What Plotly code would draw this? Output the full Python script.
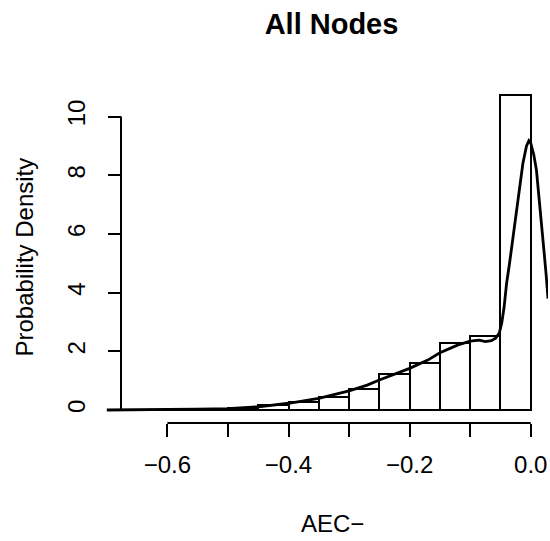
import plotly.graph_objects as go

# ---- data ----
bin_edges = [-0.70, -0.65, -0.60, -0.55, -0.50, -0.45, -0.40, -0.35, -0.30,
             -0.25, -0.20, -0.15, -0.10, -0.05, 0.00]
bin_density = [0.0, 0.0, 0.02, 0.05, 0.06, 0.16, 0.28, 0.43, 0.72,
               1.22, 1.61, 2.30, 2.52, 10.74]

kde_x = [-0.70, -0.65, -0.60, -0.55, -0.50, -0.45, -0.40, -0.35, -0.30, -0.27,
         -0.25, -0.22, -0.20, -0.17, -0.15, -0.12, -0.10, -0.085, -0.075, -0.065,
         -0.058, -0.052, -0.048, -0.044, -0.040, -0.035, -0.029, -0.021, -0.013,
         -0.007, -0.003, 0.000, 0.005, 0.0094, 0.0177, 0.0215, 0.0255, 0.0285]
kde_y = [0.0, 0.005, 0.01, 0.03, 0.05, 0.11, 0.23, 0.40, 0.65, 0.85,
         1.02, 1.25, 1.42, 1.70, 1.95, 2.22, 2.35, 2.38, 2.33, 2.36,
         2.45, 2.62, 2.95, 3.5, 4.3, 5.0, 5.9, 7.05, 8.4,
         9.0, 9.18, 9.1, 8.7, 8.18, 6.48, 5.5, 4.6, 3.8]

x_ticks = [-0.6, -0.5, -0.4, -0.3, -0.2, -0.1, 0.0]
x_ticklabels = ["\u22120.6", "", "\u22120.4", "", "\u22120.2", "", "0.0"]
y_ticks = [0, 2, 4, 6, 8, 10]
y_ticklabels = ["0", "2", "4", "6", "8", "10"]

title_text = "<b>All Nodes</b>"
x_label = "AEC\u2212"
y_label = "Probability Density"

# ---- derived ----
centers = [(a + b) / 2 for a, b in zip(bin_edges[:-1], bin_edges[1:])]
widths = [b - a for a, b in zip(bin_edges[:-1], bin_edges[1:])]

FONT = "Liberation Sans, Arial, Helvetica, sans-serif"
W, H = 550, 541
ML, MR, MT, MB = 105, 2, 82, 118
plot_w = W - ML - MR
yaxis_pos = (121 - ML) / plot_w

fig = go.Figure()
fig.add_trace(go.Bar(
    x=centers, y=bin_density, width=widths,
    marker=dict(color="white", line=dict(color="black", width=2)),
    showlegend=False, hoverinfo="skip",
))
fig.add_trace(go.Scatter(
    x=kde_x, y=kde_y, mode="lines",
    line=dict(color="black", width=2.8),
    showlegend=False, hoverinfo="skip", cliponaxis=True,
))

fig.update_layout(
    width=W, height=H,
    margin=dict(l=ML, r=MR, t=MT, b=MB, pad=0),
    paper_bgcolor="white", plot_bgcolor="white",
    font=dict(family=FONT, size=24, color="black"),
    bargap=0,
    title=dict(text=title_text, x=331.5 / W, xref="container", xanchor="center",
               y=1 - 24 / H, yref="container", yanchor="middle",
               font=dict(family=FONT, size=29, color="black")),
    xaxis=dict(
        range=[bin_edges[0] - 0.003, 0.0285],
        showgrid=False, zeroline=False, showline=False,
        tickmode="array", tickvals=x_ticks, ticktext=x_ticklabels,
        ticks="outside", ticklen=13, tickwidth=2, tickcolor="black",
        ticklabelstandoff=7,
        tickfont=dict(family=FONT, size=24, color="black"),
    ),
    yaxis=dict(
        range=[-0.443, 11.18],
        anchor="free", position=yaxis_pos,
        showgrid=False, zeroline=False, showline=False,
        tickmode="array", tickvals=y_ticks, ticktext=y_ticklabels,
        tickangle=-90,
        ticks="outside", ticklen=13, tickwidth=2, tickcolor="black",
        ticklabelstandoff=13,
        tickfont=dict(family=FONT, size=24, color="black"),
    ),
    annotations=[
        dict(text=y_label, xref="paper", yref="paper",
             x=(24 - ML) / plot_w, y=(H - MB - 257.5) / (H - MT - MB),
             textangle=-90, showarrow=False, xanchor="center", yanchor="middle",
             font=dict(family=FONT, size=24, color="black")),
        dict(text=x_label, xref="paper", yref="paper",
             x=(332.5 - ML) / plot_w, y=-(523 - (H - MB)) / (H - MT - MB),
             showarrow=False, xanchor="center", yanchor="middle",
             font=dict(family=FONT, size=24, color="black")),
    ],
    shapes=[
        # x axis line spanning the tick range
        dict(type="line", xref="x", yref="paper",
             x0=min(x_ticks), x1=max(x_ticks), y0=0, y1=0,
             line=dict(color="black", width=2)),
        # y axis line spanning the tick range
        dict(type="line", xref="paper", yref="y",
             x0=yaxis_pos, x1=yaxis_pos, y0=min(y_ticks), y1=max(y_ticks),
             line=dict(color="black", width=2)),
    ],
)

fig.write_html("out.html")
